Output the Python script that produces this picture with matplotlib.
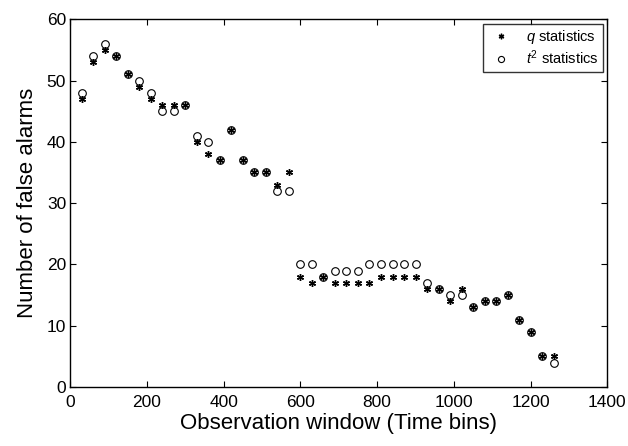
import numpy as np
from matplotlib import pyplot as plt

plt.rcParams['font.family'] = ['Liberation Sans', 'DejaVu Sans']
plt.rcParams['mathtext.fontset'] = 'custom'
plt.rcParams['mathtext.rm'] = 'Liberation Sans'
plt.rcParams['mathtext.it'] = 'Liberation Sans:italic'

# observation windows (time bins)
windows = np.arange(30, 1261, 30)

# q statistics false alarms
q_alarms = [47, 53, 55, 54, 51, 49, 47, 46, 46, 46, 40, 38, 37, 42, 37, 35, 35, 33, 35,
            18, 17, 18, 17, 17, 17, 17, 18, 18, 18, 18, 16, 16, 14, 16, 13, 14, 14, 15,
            11, 9, 5, 5]

# t^2 statistics false alarms
t2_alarms = [48, 54, 56, 54, 51, 50, 48, 45, 45, 46, 41, 40, 37, 42, 37, 35, 35, 32, 32,
             20, 20, 18, 19, 19, 19, 20, 20, 20, 20, 20, 17, 16, 15, 15, 13, 14, 14, 15,
             11, 9, 5, 4]

fig = plt.figure(figsize=(6.28, 4.46), dpi=100)
ax = fig.add_axes([0.112, 0.132, 0.855, 0.825])

# MATLAB-like asterisk marker
ax.plot(windows, q_alarms, linestyle='none', marker=(6, 2, 0), color='black',
        markersize=5, markeredgewidth=1.0, label='$q$ statistics')
ax.plot(windows, t2_alarms, linestyle='none', marker='o', markerfacecolor='none',
        markeredgecolor='black', markeredgewidth=0.8, markersize=5.5,
        label='$t^2$ statistics')

ax.set_xlim(0, 1400)
ax.set_ylim(0, 60)
ax.set_xticks(np.arange(0, 1401, 200))
ax.set_yticks(np.arange(0, 61, 10))
ax.tick_params(direction='in', top=True, right=True, labelsize=12.5, length=4)
ax.tick_params(axis='x', pad=6)
ax.tick_params(axis='y', pad=3)
for s in ax.spines.values():
    s.set_linewidth(1.0)

ax.set_xlabel('Observation window (Time bins)', fontsize=16, labelpad=2)
ax.set_ylabel('Number of false alarms', fontsize=16, labelpad=6)

leg = ax.legend(loc='upper right', fontsize=10.5, frameon=True, fancybox=False,
                edgecolor='black', handletextpad=0.8, borderpad=0.3,
                labelspacing=0.2, handlelength=1.8, markerscale=0.8,
                borderaxespad=0.3)
leg.get_frame().set_linewidth(1.0)

fig.savefig('out.png', dpi=100)
